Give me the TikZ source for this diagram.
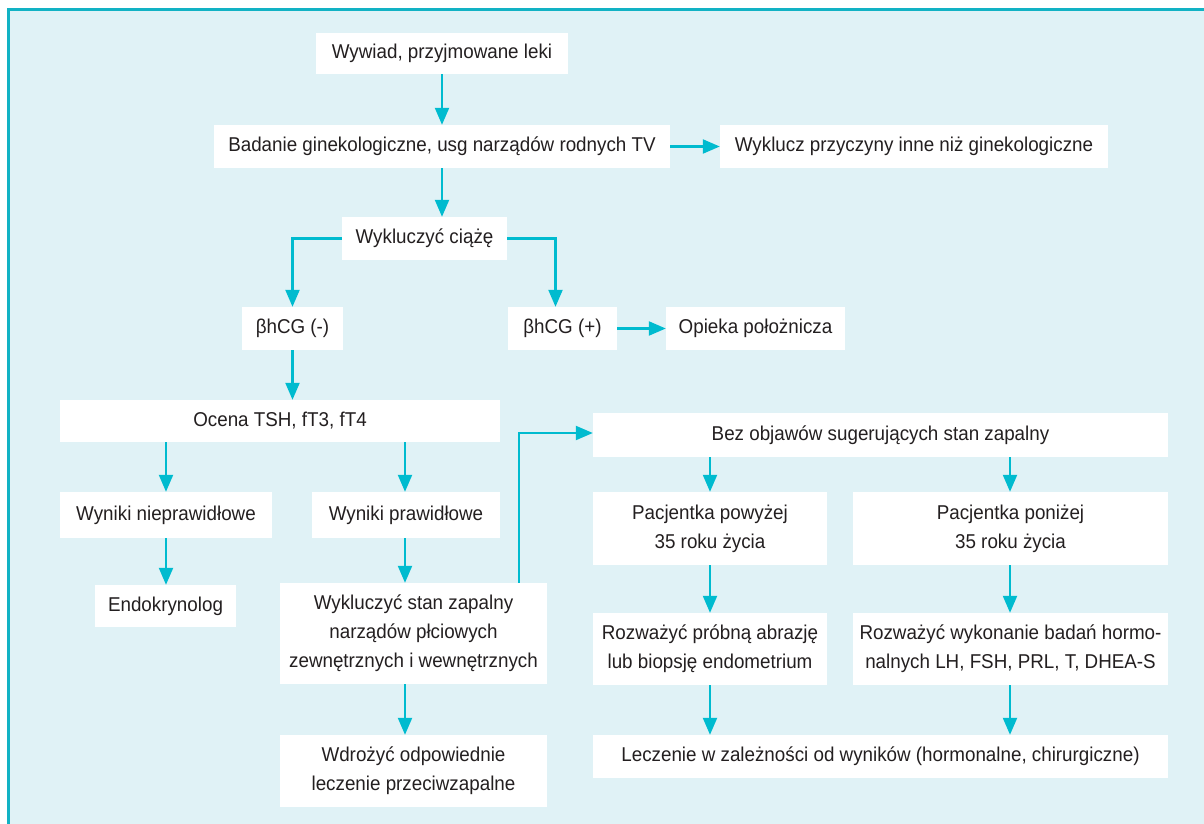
\documentclass[tikz,border=0pt]{standalone}
\usepackage{fontspec}
\setmainfont[FakeStretch=0.94]{Liberation Sans}
\usetikzlibrary{arrows.meta,calc}
\definecolor{bgc}{HTML}{E0F2F6}
\definecolor{framec}{HTML}{12B2C4}
\definecolor{arrc}{HTML}{00BBCF}
\definecolor{txtc}{HTML}{231F20}
\tikzset{
  box/.style={fill=white, draw=none, inner sep=0pt, text=txtc, align=center,
    font=\fontsize{20}{29}\selectfont},
  conn/.style={draw=arrc, line width=2.2pt, -{Triangle[length=17pt,width=14pt]}},
}
\begin{document}
\begin{tikzpicture}[x=1pt,y=-1pt]
\useasboundingbox (0,0) rectangle (1204,824);
\begin{scope}
\clip (0,0) rectangle (1204,824);
\fill[bgc] (8,9) rectangle (1210,830);
\draw[framec, line width=3pt] (8.5,830) -- (8.5,9.5) -- (1210,9.5);
\end{scope}

\node[box, minimum width=252pt, minimum height=41pt] (n1) at (442,53.5) {Wywiad, przyjmowane leki};
\node[box, minimum width=456pt, minimum height=43pt] (n2) at (442,146.5) {Badanie ginekologiczne, usg narządów rodnych TV};
\node[box, minimum width=388pt, minimum height=43pt] (n3) at (914,146.5) {Wyklucz przyczyny inne niż ginekologiczne};
\node[box, minimum width=165pt, minimum height=43pt] (n4) at (424.5,238.5) {Wykluczyć ciążę};
\node[box, minimum width=101pt, minimum height=43pt] (n5) at (292.5,328.5) {βhCG (-)};
\node[box, minimum width=109pt, minimum height=43pt] (n6) at (562.5,328.5) {βhCG (+)};
\node[box, minimum width=179pt, minimum height=43pt] (n7) at (755.5,328.5) {Opieka położnicza};
\node[box, minimum width=440pt, minimum height=42pt] (n8) at (280,421) {Ocena TSH, fT3, fT4};
\node[box, minimum width=212pt, minimum height=46pt] (n9) at (166,515) {Wyniki nieprawidłowe};
\node[box, minimum width=188pt, minimum height=46pt] (n10) at (406,515) {Wyniki prawidłowe};
\node[box, minimum width=141pt, minimum height=42pt] (n11) at (165.5,606) {Endokrynolog};
\node[box, minimum width=267pt, minimum height=101pt] (n12) at (413.5,633.5) {Wykluczyć stan zapalny\\narządów płciowych\\zewnętrznych i wewnętrznych};
\node[box, minimum width=267pt, minimum height=72pt] (n13) at (413.5,771) {Wdrożyć odpowiednie\\leczenie przeciwzapalne};
\node[box, minimum width=575pt, minimum height=44pt] (n14) at (880.5,435) {Bez objawów sugerujących stan zapalny};
\node[box, minimum width=234pt, minimum height=73pt] (n15) at (710,528.5) {Pacjentka powyżej\\35 roku życia};
\node[box, minimum width=315pt, minimum height=73pt] (n16) at (1010.5,528.5) {Pacjentka poniżej\\35 roku życia};
\node[box, minimum width=234pt, minimum height=72pt] (n17) at (710,649) {Rozważyć próbną abrazję\\lub biopsję endometrium};
\node[box, minimum width=315pt, minimum height=72pt] (n18) at (1010.5,649) {Rozważyć wykonanie badań hormo-\\nalnych LH, FSH, PRL, T, DHEA-S};
\node[box, minimum width=575pt, minimum height=43pt] (n19) at (880.5,756.5) {Leczenie w zależności od wyników (hormonalne, chirurgiczne)};

\draw[conn] (n1.south) -- (n2.north);
\draw[conn] (n2.east) -- (n3.west);
\draw[conn] (n2.south) -- (n2.south |- n4.north);
\draw[conn] (n4.west) -| (n5.north);
\draw[conn] (n4.east) -| ([xshift=-7pt]n6.north);
\draw[conn] (n6.east) -- (n7.west);
\draw[conn] (n5.south) -- (n5.south |- n8.north);
\draw[conn] (n9.north |- n8.south) -- (n9.north);
\draw[conn] ([xshift=-1pt]n10.north |- n8.south) -- ([xshift=-1pt]n10.north);
\draw[conn] (n9.south) -- (n9.south |- n11.north);
\draw[conn] ([xshift=-1pt]n10.south) -- ([xshift=-1pt]n10.south |- n12.north);
\coordinate (c12) at ([xshift=-1pt]n10.south |- n12.south);
\draw[conn] (c12) -- (c12 |- n13.north);
\coordinate (up) at ([xshift=105.5pt]n12.north);
\draw[conn] (up) |- ([yshift=2pt]n14.west);
\draw[conn] (n15.north |- n14.south) -- (n15.north);
\draw[conn] ([xshift=-0.5pt]n16.north |- n14.south) -- ([xshift=-0.5pt]n16.north);
\draw[conn] (n15.south) -- (n17.north);
\draw[conn] ([xshift=-0.5pt]n16.south) -- ([xshift=-0.5pt]n18.north);
\draw[conn] (n17.south) -- (n17.south |- n19.north);
\draw[conn] ([xshift=-0.5pt]n18.south) -- ([xshift=-0.5pt]n18.south |- n19.north);
\end{tikzpicture}
\end{document}
